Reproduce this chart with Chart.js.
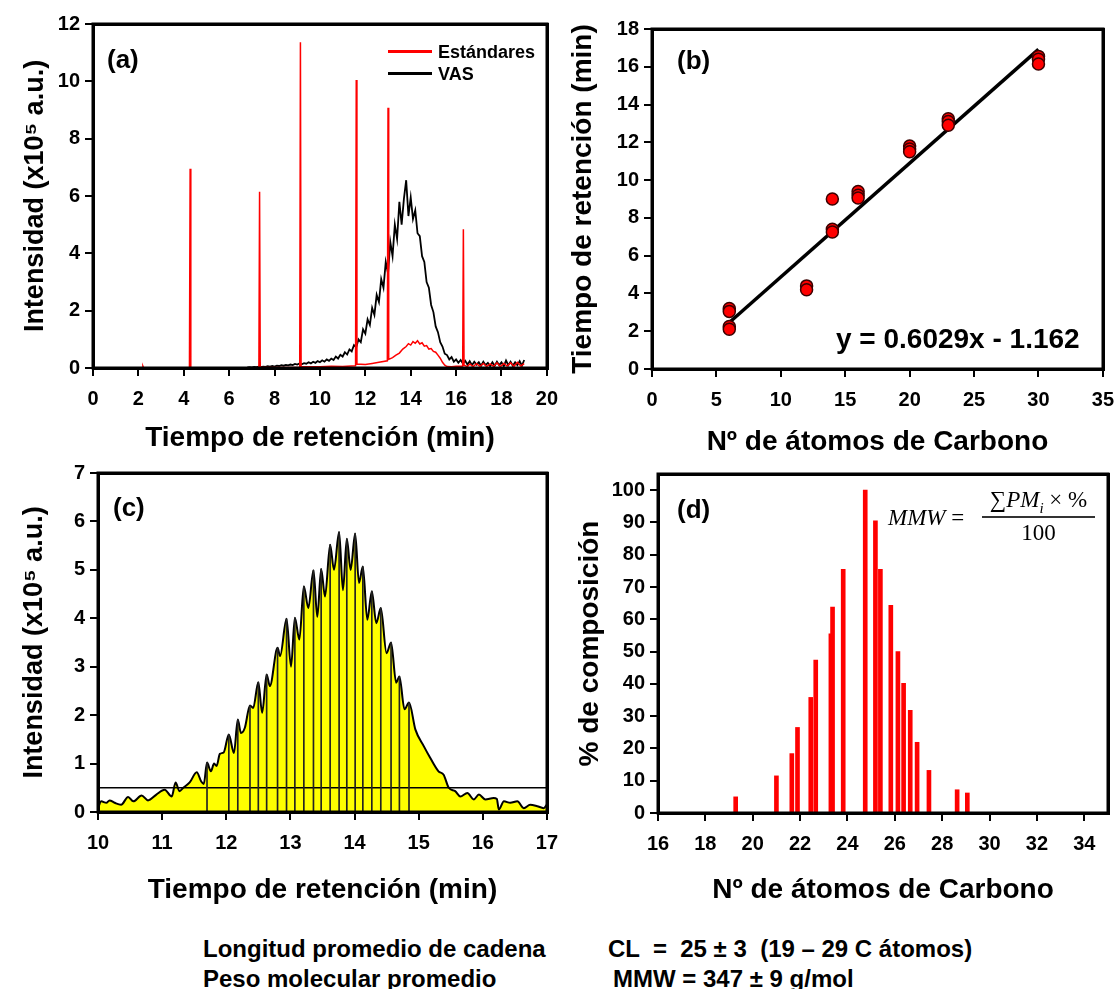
<!DOCTYPE html>
<html lang="es">
<head>
<meta charset="utf-8">
<title>VAS - cromatograma y distribución de cadena</title>
<script src="https://cdn.jsdelivr.net/npm/chart.js@4.4.1/dist/chart.umd.min.js"></script>
<style>
  html, body { margin: 0; padding: 0; background: #fff; }
  #page { position: relative; width: 1118px; height: 989px; overflow: hidden;
          font-family: "Liberation Sans", Arial, sans-serif; color: #000; }
  .panel { position: absolute; line-height: 0; }
  .txt { position: absolute; white-space: pre; line-height: 1; font-weight: bold; z-index: 2; }
  .serif { position: absolute; white-space: pre; line-height: 1; z-index: 2;
           font-family: "Liberation Serif", "DejaVu Serif", serif; font-size: 23px; }
  .swatch { position: absolute; height: 3px; z-index: 2; }
  .frame { position: absolute; border: 3px solid #000; box-sizing: border-box; z-index: 3; pointer-events: none; }
</style>
</head>
<body>
<div id="page">
  <div class="panel" style="left:0;top:0"><canvas id="chartA" width="569" height="460"></canvas></div>
  <div class="panel" style="left:560px;top:0"><canvas id="chartB" width="565" height="460"></canvas></div>
  <div class="panel" style="left:0;top:456px"><canvas id="chartC" width="569" height="460"></canvas></div>
  <div class="panel" style="left:560px;top:456px"><canvas id="chartD" width="558" height="460"></canvas></div>

  <!-- panel letters -->
  <div class="txt" style="left:107px;top:46px;font-size:26px">(a)</div>
  <div class="txt" style="left:677px;top:47px;font-size:26px">(b)</div>
  <div class="txt" style="left:113px;top:494px;font-size:26px">(c)</div>
  <div class="txt" style="left:677px;top:496px;font-size:26px">(d)</div>

  <!-- legend (a) -->
  <div class="swatch" style="left:388px;top:50px;width:44px;background:#ff0000"></div>
  <div class="swatch" style="left:388px;top:72px;width:44px;background:#000"></div>
  <div class="txt" style="left:438px;top:43px;font-size:18px">Estándares</div>
  <div class="txt" style="left:438px;top:65px;font-size:18px">VAS</div>

  <!-- fit equation (b) -->
  <div class="txt" style="left:836px;top:325px;font-size:28px">y = 0.6029x - 1.162</div>

  <!-- MMW formula (d) -->
  <div class="serif" style="left:888px;top:506px"><i>MMW</i> =</div>
  <div class="serif" style="left:978px;top:488px;width:121px;text-align:center">∑<i>PM<sub style="font-size:15px">i</sub></i> × %</div>
  <div class="swatch" style="left:982px;top:516px;width:113px;height:1.5px;background:#333"></div>
  <div class="serif" style="left:978px;top:521px;width:121px;text-align:center">100</div>

  <!-- summary -->
  <div class="txt" style="left:203px;top:937px;font-size:24px">Longitud promedio de cadena</div>
  <div class="txt" style="left:608px;top:937px;font-size:24px">CL  =  25 ± 3  (19 – 29 C átomos)</div>
  <div class="txt" style="left:203px;top:967px;font-size:24px">Peso molecular promedio</div>
  <div class="txt" style="left:613px;top:967px;font-size:24px">MMW = 347 ± 9 g/mol</div>
</div>

<script>
// ---------------------------------------------------------------
// DATA
// ---------------------------------------------------------------

// (a) chromatogram of the n-alkane standards (red)
const stdTime = [0.0, 2.17, 2.20, 2.23, 4.25, 4.28, 4.31, 7.31, 7.34, 7.37, 8.5,
  9.11, 9.14, 9.17, 10.0, 10.5, 11.0, 11.57, 11.60, 11.63, 12.0, 12.3, 12.6,
  12.97, 13.00, 13.03, 13.2, 13.35, 13.5, 13.65, 13.8, 13.9, 14.0, 14.1, 14.2,
  14.3, 14.4, 14.5, 14.6, 14.7, 14.8, 14.9, 15.0, 15.1, 15.2, 15.3, 15.4, 15.5,
  15.6, 15.8, 16.0, 16.29, 16.32, 16.35, 16.5, 16.6, 16.75, 16.9, 17.05, 17.2,
  17.35, 17.5, 17.65, 17.8, 17.95, 18.1, 18.25, 18.4, 18.55, 18.7, 18.85, 19.0];
const stdSignal = [0.00, 0.00, 0.06, 0.00, 0.00, 6.95, 0.00, 0.00, 6.15, 0.02, 0.02,
  0.03, 11.36, 0.04, 0.04, 0.06, 0.05, 0.08, 10.05, 0.14, 0.12, 0.16, 0.20,
  0.25, 9.08, 0.30, 0.36, 0.45, 0.52, 0.66, 0.75, 0.85, 0.80, 0.92, 0.86,
  0.95, 0.84, 0.88, 0.76, 0.78, 0.66, 0.68, 0.58, 0.55, 0.45, 0.34, 0.20, 0.10,
  0.05, 0.04, 0.06, 0.06, 4.84, 0.10, 0.05, 0.14, 0.05, 0.15, 0.06, 0.16,
  0.05, 0.14, 0.06, 0.18, 0.05, 0.16, 0.07, 0.18, 0.06, 0.20, 0.07, 0.15];

// (a) chromatogram of the VAS sample (black)
const vasTime = [6.8, 6.9, 7.0, 7.1, 7.2, 7.3, 7.4, 7.5, 7.6, 7.7, 7.8, 7.9,
  8.0, 8.1, 8.2, 8.3, 8.4, 8.5, 8.6, 8.7, 8.8, 8.9, 9.0, 9.1, 9.2, 9.3, 9.4,
  9.5, 9.6, 9.7, 9.8, 9.9, 10.0, 10.1, 10.2, 10.3, 10.4, 10.5, 10.6, 10.7,
  10.8, 10.9, 11.0, 11.1, 11.2, 11.3, 11.4, 11.5, 11.6, 11.7, 11.8, 11.9,
  12.0, 12.1, 12.2, 12.3, 12.4, 12.5, 12.6, 12.7, 12.8, 12.9, 13.0, 13.1,
  13.2, 13.3, 13.4, 13.5, 13.6, 13.7, 13.8, 13.9, 14.0, 14.1, 14.2, 14.3,
  14.4, 14.5, 14.6, 14.7, 14.8, 14.9, 15.0, 15.1, 15.2, 15.3, 15.4, 15.5,
  15.6, 15.7, 15.8, 15.9, 16.0, 16.1, 16.2, 16.3, 16.4, 16.5, 16.6, 16.7,
  16.8, 16.9, 17.0, 17.1, 17.2, 17.3, 17.4, 17.5, 17.6, 17.7, 17.8, 17.9,
  18.0, 18.1, 18.2, 18.3, 18.4, 18.5, 18.6, 18.7, 18.8, 18.9, 19.0];
const vasSignal = [0.02, 0.03, 0.02, 0.04, 0.03, 0.05, 0.03, 0.05, 0.04, 0.06, 0.05, 0.07,
  0.05, 0.08, 0.07, 0.10, 0.08, 0.11, 0.09, 0.12, 0.10, 0.14, 0.12, 0.16, 0.13, 0.17, 0.15,
  0.20, 0.16, 0.22, 0.18, 0.24, 0.20, 0.27, 0.22, 0.30, 0.25, 0.33, 0.28, 0.40,
  0.33, 0.46, 0.40, 0.55, 0.47, 0.65, 0.58, 0.80, 0.72, 1.00, 0.90, 1.35,
  1.20, 1.70, 1.50, 2.10, 1.85, 2.55, 2.30, 3.10, 2.80, 3.70, 3.30, 4.40,
  3.90, 5.00, 4.50, 5.80, 5.00, 5.90, 6.55, 5.30, 5.95, 5.20, 5.50, 4.70,
  4.60, 3.90, 3.70, 3.00, 2.80, 2.20, 1.95, 1.45, 1.25, 0.90, 0.75, 0.50,
  0.45, 0.30, 0.38, 0.22, 0.30, 0.18, 0.28, 0.16, 0.25, 0.12, 0.24, 0.10,
  0.22, 0.12, 0.20, 0.08, 0.22, 0.10, 0.18, 0.06, 0.20, 0.08, 0.22, 0.10,
  0.20, 0.06, 0.26, 0.10, 0.22, 0.08, 0.20, 0.10, 0.24, 0.08, 0.28];

// (b) retention time of each standard vs. carbon number, and the fitted line
const carbonAtoms = [6, 6, 6, 6, 12, 12, 14, 14, 14, 16, 16, 16, 20, 20, 20, 23, 23, 23, 30, 30, 30];
const retentionMin = [3.2, 3.05, 2.25, 2.1, 4.4, 4.2, 9.0, 7.4, 7.25, 9.4, 9.2, 9.05,
  11.8, 11.65, 11.5, 13.25, 13.1, 12.9, 16.55, 16.4, 16.15];
const fitCarbon = [6, 30];
const fitRetention = [2.46, 16.92];

// (c) smoothed VAS chromatogram, peak drop lines and cutoff level
const smoothTime = [10.00, 10.05, 10.13, 10.18, 10.26, 10.36, 10.47, 10.55, 10.68, 10.78,
  10.91, 11.04, 11.15, 11.21, 11.27, 11.33, 11.43, 11.54, 11.61, 11.65, 11.70, 11.76,
  11.81, 11.85, 11.90, 11.96, 12.04, 12.12, 12.18, 12.23, 12.29, 12.37, 12.42, 12.50,
  12.56, 12.63, 12.68, 12.80, 12.84, 12.94, 13.01, 13.07, 13.14, 13.21, 13.28, 13.36,
  13.42, 13.48, 13.54, 13.62, 13.68, 13.76, 13.82, 13.88, 13.94, 14.01, 14.07, 14.13,
  14.20, 14.27, 14.34, 14.41, 14.50, 14.57, 14.65, 14.70, 14.78, 14.85, 14.95, 15.08,
  15.18, 15.31, 15.39, 15.47, 15.57, 15.65, 15.76, 15.86, 15.94, 16.04, 16.17, 16.22,
  16.25, 16.33, 16.43, 16.54, 16.64, 16.74, 16.85, 16.95, 17.00];
const smoothSignal = [0.08, 0.22, 0.19, 0.24, 0.19, 0.15, 0.31, 0.22, 0.34, 0.24,
  0.36, 0.46, 0.32, 0.61, 0.43, 0.50, 0.61, 0.82, 0.63, 0.58, 1.02, 0.84,
  1.00, 0.95, 1.20, 1.23, 1.60, 1.22, 1.91, 1.63, 1.74, 2.20, 2.15, 2.68,
  2.05, 2.84, 2.60, 3.39, 3.22, 3.99, 3.00, 4.01, 3.56, 4.66, 4.21, 4.99,
  4.03, 5.02, 4.45, 5.52, 5.00, 5.78, 4.58, 5.64, 5.00, 5.75, 4.73, 5.07,
  3.97, 4.56, 3.90, 4.21, 3.28, 3.50, 2.67, 2.80, 2.12, 2.26, 1.70, 1.36,
  1.12, 0.84, 0.77, 0.50, 0.43, 0.32, 0.39, 0.26, 0.36, 0.26, 0.29, 0.27,
  0.05, 0.22, 0.19, 0.22, 0.08, 0.15, 0.12, 0.08, 0.15];
const peakTime = [11.70, 12.04, 12.18, 12.37, 12.50, 12.63, 12.80, 12.94, 13.07, 13.21, 13.36,
  13.48, 13.62, 13.76, 13.88, 14.01, 14.13, 14.27, 14.41, 14.57, 14.70, 14.85];
const peakHeight = [1.02, 1.60, 1.91, 2.20, 2.68, 2.84, 3.39, 3.99, 4.01, 4.66, 4.99,
  5.02, 5.52, 5.78, 5.64, 5.75, 5.07, 4.56, 4.21, 3.50, 2.80, 2.26];
const cutoffTime = [10, 17];
const cutoffLevel = [0.5, 0.5];

// (d) composition by carbon number
const chainLength = [19.28, 21.0, 21.65, 21.89, 22.45, 22.66, 23.3, 23.37, 23.82, 24.75,
  25.18, 25.39, 25.83, 26.13, 26.37, 26.65, 26.94, 27.44, 28.63, 29.06];
const composition = [5, 11.5, 18.4, 26.5, 35.8, 47.4, 55.5, 63.8, 75.5, 100,
  90.5, 75.5, 64.3, 50, 40.2, 31.8, 21.9, 13.2, 7.2, 6.2];

// tick marks of every axis
const ticksAx = [0, 2, 4, 6, 8, 10, 12, 14, 16, 18, 20];
const ticksAy = [0, 2, 4, 6, 8, 10, 12];
const ticksBx = [0, 5, 10, 15, 20, 25, 30, 35];
const ticksBy = [0, 2, 4, 6, 8, 10, 12, 14, 16, 18];
const ticksCx = [10, 11, 12, 13, 14, 15, 16, 17];
const ticksCy = [0, 1, 2, 3, 4, 5, 6, 7];
const ticksDx = [16, 18, 20, 22, 24, 26, 28, 30, 32, 34];
const ticksDy = [0, 10, 20, 30, 40, 50, 60, 70, 80, 90, 100];

// ---------------------------------------------------------------
// SHARED STYLE
// ---------------------------------------------------------------
const FONT = '"Liberation Sans", Arial, sans-serif';

const pairs = (xs, ys) => xs.map((x, i) => ({ x: x, y: ys[i] }));

// box round the plot area, drawn on the canvas as well
const framePlugin = {
    id: 'plotFrame',
    afterDraw(chart) {
        const { ctx, chartArea: a } = chart;
        const l = Math.round(a.left), t = Math.round(a.top);
        const r = Math.round(a.right), b = Math.round(a.bottom);
        ctx.save();
        ctx.lineWidth = 3;
        ctx.strokeStyle = '#000';
        ctx.beginPath();
        ctx.moveTo(l, t); ctx.lineTo(r, t); ctx.lineTo(r, b); ctx.lineTo(l, b); ctx.closePath();
        ctx.stroke();
        ctx.restore();
    }
};

function makeAxis(o) {
    return {
        type: 'linear',
        min: o.min,
        max: o.max,
        offset: false,
        grid: { display: true, drawOnChartArea: false, drawTicks: true, tickLength: 8,
                color: '#000', lineWidth: 2, offset: false },
        border: { display: false },
        ticks: { color: '#000', padding: o.tickPad, autoSkip: false, maxRotation: 0,
                 font: { family: FONT, size: 20, weight: 'bold' } },
        title: { display: true, text: o.title, color: '#000',
                 font: { family: FONT, size: o.titleSize || 28, weight: 'bold' },
                 padding: o.vertical ? { top: o.titlePad, bottom: 0 } : { top: 0, bottom: o.titlePad } },
        // use exactly the tick values listed above
        afterBuildTicks: s => { s.ticks = o.ticks.map(v => ({ value: v })); },
        afterFit: o.vertical ? s => { s.width = o.size; } : s => { s.height = o.size; }
    };
}

function baseOptions(pad, xAxis, yAxis) {
    return {
        responsive: false,
        devicePixelRatio: 1,
        animation: false,
        layout: { padding: pad },
        plugins: { legend: { display: false }, tooltip: { enabled: false } },
        scales: { x: xAxis, y: yAxis }
    };
}

// same box as an overlay, placed from the chart's own chartArea
function addFrame(chart, left, top) {
    const a = chart.chartArea;
    const box = document.createElement('div');
    box.className = 'frame';
    box.style.left = Math.round(left + a.left - 1.5) + 'px';
    box.style.top = Math.round(top + a.top - 1.5) + 'px';
    box.style.width = Math.round(a.right - a.left + 3) + 'px';
    box.style.height = Math.round(a.bottom - a.top + 3) + 'px';
    document.getElementById('page').appendChild(box);
}

// ---------------------------------------------------------------
// (a) CHROMATOGRAMS
// ---------------------------------------------------------------
const chartA = new Chart(document.getElementById('chartA'), {
    type: 'line',
    data: {
        datasets: [
            { label: 'Estándares', data: pairs(stdTime, stdSignal), borderColor: '#ff0000',
              borderWidth: 1.5, pointRadius: 0, tension: 0 },
            { label: 'VAS', data: pairs(vasTime, vasSignal), borderColor: '#000',
              borderWidth: 1.8, pointRadius: 0, tension: 0 }
        ]
    },
    options: baseOptions({ left: 0, top: 24, right: 0, bottom: 0 },
        makeAxis({ min: 0, max: 20, ticks: ticksAx, tickPad: 11, size: 92, titlePad: 5,
                   title: 'Tiempo de retención (min)' }),
        makeAxis({ min: 0, max: 12, ticks: ticksAy, tickPad: 5, size: 93, titlePad: 19, vertical: true,
                   titleSize: 27, title: 'Intensidad (x10⁵ a.u.)' })),
    plugins: [framePlugin]
});
addFrame(chartA, 0, 0);

// ---------------------------------------------------------------
// (b) CALIBRATION
// ---------------------------------------------------------------
const chartB = new Chart(document.getElementById('chartB'), {
    type: 'scatter',
    data: {
        datasets: [
            { data: pairs(carbonAtoms, retentionMin), backgroundColor: '#ff0000',
              borderColor: '#3a0000', borderWidth: 1.5, pointRadius: 6 },
            { type: 'line', data: pairs(fitCarbon, fitRetention), borderColor: '#000',
              borderWidth: 3.5, pointRadius: 0, showLine: true }
        ]
    },
    options: baseOptions({ left: 0, top: 29, right: 0, bottom: 0 },
        makeAxis({ min: 0, max: 35, ticks: ticksBx, tickPad: 11, size: 91, titlePad: 1,
                   title: 'Nº de átomos de Carbono' }),
        makeAxis({ min: 0, max: 18, ticks: ticksBy, tickPad: 5, size: 92, titlePad: 6, vertical: true,
                   title: 'Tiempo de retención (min)' })),
    plugins: [framePlugin]
});
addFrame(chartB, 560, 0);

// ---------------------------------------------------------------
// (c) SMOOTHED VAS PEAK WITH DROP LINES
// ---------------------------------------------------------------
const chartC = new Chart(document.getElementById('chartC'), {
    type: 'line',
    data: {
        datasets: [
            { type: 'bar', data: pairs(peakTime, peakHeight), backgroundColor: '#222',
              barThickness: 1, order: 1 },
            { data: pairs(cutoffTime, cutoffLevel), borderColor: '#000', borderWidth: 1.5,
              pointRadius: 0, order: 2 },
            { data: pairs(smoothTime, smoothSignal), borderColor: '#000', borderWidth: 2,
              backgroundColor: '#ffff00', fill: 'origin', pointRadius: 0,
              cubicInterpolationMode: 'monotone', order: 3 }
        ]
    },
    options: baseOptions({ left: 0, top: 17, right: 0, bottom: 0 },
        makeAxis({ min: 10, max: 17, ticks: ticksCx, tickPad: 11, size: 104, titlePad: 9,
                   title: 'Tiempo de retención (min)' }),
        makeAxis({ min: 0, max: 7, ticks: ticksCy, tickPad: 5, size: 98, titlePad: 18, vertical: true,
                   titleSize: 27, title: 'Intensidad (x10⁵ a.u.)' })),
    plugins: [framePlugin]
});
addFrame(chartC, 0, 456);

// ---------------------------------------------------------------
// (d) COMPOSITION BY CHAIN LENGTH
// ---------------------------------------------------------------
const chartD = new Chart(document.getElementById('chartD'), {
    type: 'bar',
    data: {
        datasets: [
            { data: pairs(chainLength, composition), backgroundColor: '#ff0000', barThickness: 4 }
        ]
    },
    options: baseOptions({ left: 0, top: 18, right: 10, bottom: 0 },
        makeAxis({ min: 16, max: 35, ticks: ticksDx, tickPad: 11, size: 103, titlePad: 9,
                   title: 'Nº de átomos de Carbono' }),
        makeAxis({ min: 0, max: 105, ticks: ticksDy, tickPad: 5, size: 98, titlePad: 13, vertical: true,
                   title: '% de composición' })),
    plugins: [framePlugin]
});
addFrame(chartD, 560, 456);
</script>
</body>
</html>
